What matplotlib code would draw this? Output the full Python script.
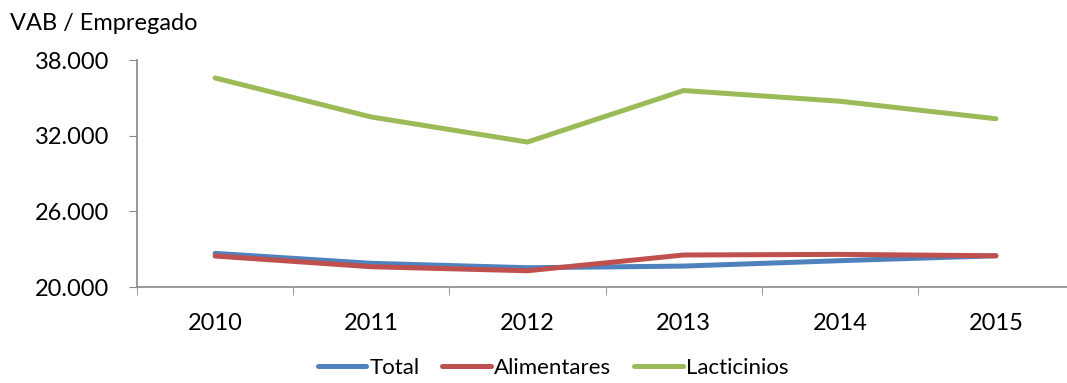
import matplotlib
matplotlib.use("Agg")
import matplotlib.pyplot as plt
from matplotlib.ticker import FuncFormatter

years = ["2010", "2011", "2012", "2013", "2014", "2015"]
total = [22670, 21880, 21530, 21660, 22090, 22480]
alimentares = [22460, 21610, 21290, 22540, 22590, 22480]
lacticinios = [36600, 33500, 31510, 35600, 34750, 33360]
series_names = ["Total", "Alimentares", "Lacticinios"]
yticks = [20000, 26000, 32000, 38000]

plt.rcParams['font.family'] = ['Lato', 'DejaVu Sans']

W, H = 1067, 383
fig = plt.figure(figsize=(W / 100, H / 100), dpi=100)
left, right, top, bottom = 137, 1074, 60.3, 287
ax = fig.add_axes([left / W, 1 - bottom / H, (right - left) / W, (bottom - top) / H])

colors = ["#4F81BD", "#C0504D", "#9BBB59"]
x = list(range(len(years)))
for vals, name, c in zip([total, alimentares, lacticinios], series_names, colors):
    ax.plot(x, vals, color=c, lw=3.6, solid_capstyle='round', solid_joinstyle='round', label=name)

ax.set_xlim(-0.5, len(years) - 0.5)
ax.set_ylim(20000, 38000)
ax.set_yticks(yticks)
ax.yaxis.set_major_formatter(FuncFormatter(lambda v, p: f"{int(v):,}".replace(",", ".")))
ax.set_xticks(x)
ax.set_xticklabels(years)
ax.set_xticks([i - 0.5 for i in range(len(years) + 1)], minor=True)
ax.tick_params(axis='x', which='major', length=0, pad=19, labelsize=17)
ax.tick_params(axis='x', which='minor', length=6, color='#888888', direction='out')
ax.tick_params(axis='y', length=6, color='#888888', direction='out', pad=14, labelsize=17)
for s in ['top', 'right']:
    ax.spines[s].set_visible(False)
for s in ['left', 'bottom']:
    ax.spines[s].set_color('#888888')
    ax.spines[s].set_linewidth(1.2)

fig.text(10 / W, 1 - 23 / H, "VAB / Empregado", fontsize=17, va='center', ha='left')

fig.legend(loc='center', bbox_to_anchor=(553 / W, 1 - 368 / H), ncol=3, frameon=False,
           fontsize=16, handlelength=2.2, handletextpad=0.15, columnspacing=1.0)

fig.savefig("out.png", dpi=100)
